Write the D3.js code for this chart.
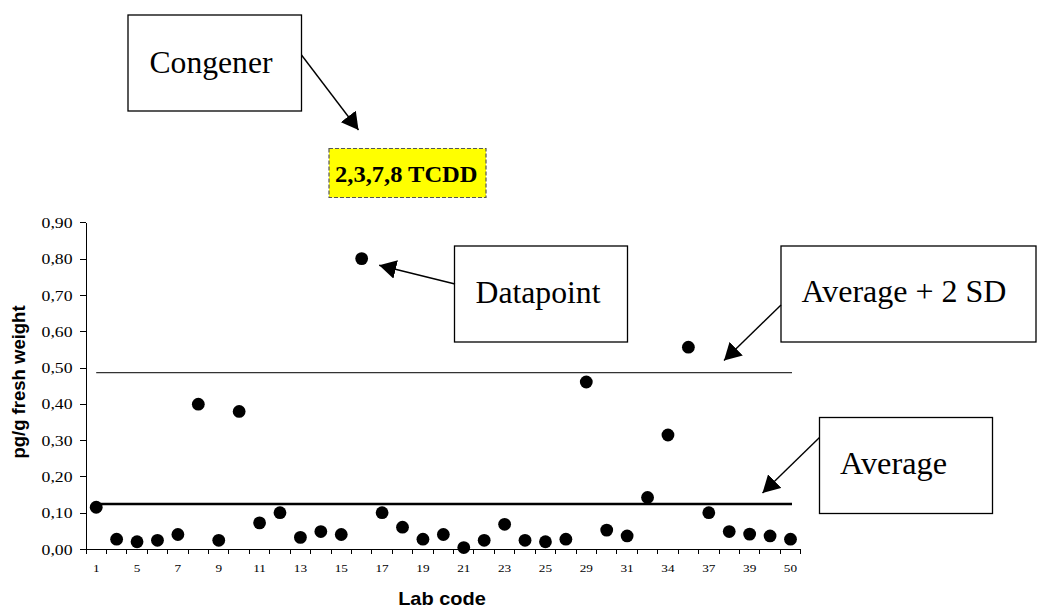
<!DOCTYPE html>
<html>
<head>
<meta charset="utf-8">
<script src="https://cdn.jsdelivr.net/npm/d3@7"></script>
<style>
  html, body { margin: 0; padding: 0; background: #fff; }
  svg { display: block; }
</style>
</head>
<body>
<svg id="chart" width="1039" height="609"></svg>
<script>
// ---- Data ----
const categories = ["1","3","5","6","7","8","9","10","11","12","13","14","15","16","17","18","19","20","21","22","23","24","25","27","29","30","31","32","34","35","37","38","39","40","50"];
const values = [0.115,0.027,0.020,0.024,0.040,0.399,0.024,0.379,0.072,0.100,0.032,0.048,0.040,0.800,0.100,0.060,0.027,0.040,0.004,0.024,0.068,0.024,0.020,0.027,0.460,0.052,0.036,0.142,0.314,0.556,0.100,0.048,0.041,0.036,0.027];
const averageValue = 0.124;
const averagePlus2SD = 0.486;
const yTicks = [0,0.1,0.2,0.3,0.4,0.5,0.6,0.7,0.8,0.9];
const xAxisTitle = "Lab code";
const yAxisTitle = "pg/g fresh weight";
const congenerName = "2,3,7,8 TCDD";

const svg = d3.select("#chart");
svg.append("rect").attr("width",1039).attr("height",609).attr("fill","#fff");

const defs = svg.append("defs");
defs.append("marker").attr("id","arrow").attr("viewBox","0 0 17 19")
  .attr("refX",17).attr("refY",9.5).attr("markerWidth",17).attr("markerHeight",19)
  .attr("markerUnits","userSpaceOnUse").attr("orient","auto")
  .append("path").attr("d","M0,0 L17,9.5 L0,19 z").attr("fill","#000");

const x = d3.scaleBand().domain(categories).range([86, 800.7]).padding(0);
const y = d3.scaleLinear().domain([0, 0.9]).range([549, 222.3]);
const cx = c => x(c) + x.bandwidth()/2;

const serif = "'Liberation Serif','Times New Roman',serif";
const sans = "'Liberation Sans',Arial,sans-serif";

function stretch(sel, f) {
  sel.each(function() {
    const len = this.getComputedTextLength();
    d3.select(this).attr("textLength", len*f).attr("lengthAdjust","spacingAndGlyphs");
  });
}

// Y axis
const yAxis = svg.append("g").attr("transform","translate(86,0)")
  .call(d3.axisLeft(y).tickValues(yTicks).tickSize(6).tickSizeOuter(0).tickPadding(7.5)
    .tickFormat(d => d3.format(".2f")(d).replace(".", ",")));
yAxis.select(".domain").attr("stroke","#000").attr("shape-rendering","crispEdges");
yAxis.selectAll(".tick line").attr("stroke","#000").attr("shape-rendering","crispEdges");
yAxis.selectAll(".tick text").attr("font-family",serif).attr("font-size",15).attr("fill","#000").attr("dy","0.34em");
stretch(yAxis.selectAll(".tick text"), 1.18);

// X axis
const xAxis = svg.append("g").attr("transform","translate(0,549)");
xAxis.append("line").attr("x1",80).attr("x2",x.range()[1]).attr("y1",0).attr("y2",0)
  .attr("stroke","#000").attr("shape-rendering","crispEdges");
const boundaries = categories.map(c => x(c)).concat([x.range()[1]]);
xAxis.selectAll("line.tk").data(boundaries).enter().append("line").attr("class","tk")
  .attr("x1",d=>d).attr("x2",d=>d).attr("y1",0).attr("y2",5)
  .attr("stroke","#000").attr("shape-rendering","crispEdges");
const xl = xAxis.selectAll("text.xl").data(categories.filter((c,i)=>i%2===0)).enter().append("text")
  .attr("class","xl").attr("x",d=>cx(d)).attr("y",23).attr("text-anchor","middle")
  .attr("font-family",serif).attr("font-size",11).attr("fill","#000").text(d=>d);
stretch(xl, 1.2);

// Axis titles
const xt = svg.append("text").attr("x",442).attr("y",605).attr("text-anchor","middle")
  .attr("font-family",sans).attr("font-weight","bold").attr("font-size",18.5).text(xAxisTitle);
stretch(xt, 1.08);
svg.append("text").attr("transform","translate(25,382) rotate(-90)").attr("text-anchor","middle")
  .attr("font-family",sans).attr("font-weight","bold").attr("font-size",18.5).text(yAxisTitle);

// Reference lines
const x0 = cx(categories[0]), x1 = cx(categories[categories.length-1]) + 1.5;
svg.append("line").attr("x1",x0).attr("x2",x1).attr("y1",y(averagePlus2SD)).attr("y2",y(averagePlus2SD))
  .attr("stroke","#333").attr("stroke-width",1.3);
svg.append("line").attr("x1",x0).attr("x2",x1).attr("y1",y(averageValue)).attr("y2",y(averageValue))
  .attr("stroke","#000").attr("stroke-width",2.6);

// Points
svg.append("g").selectAll("circle").data(values).enter().append("circle")
  .attr("cx",(d,i)=>cx(categories[i])).attr("cy",d=>y(d)).attr("r",6.4).attr("fill","#000");

// Annotations
function box(x0,y0,w,h){
  svg.append("rect").attr("x",x0).attr("y",y0).attr("width",w).attr("height",h)
    .attr("fill","#fff").attr("stroke","#000").attr("stroke-width",1.3);
}
function arrow(xa,ya,xb,yb){
  svg.append("line").attr("x1",xa).attr("y1",ya).attr("x2",xb).attr("y2",yb)
    .attr("stroke","#000").attr("stroke-width",1.4).attr("marker-end","url(#arrow)");
}
function label(t,xp,yp,size,weight,width){
  const s = svg.append("text").attr("x",xp).attr("y",yp).attr("font-family",serif)
    .attr("font-size",size).attr("font-weight",weight||"normal").attr("fill","#000").text(t);
  if (width) s.attr("textLength",width).attr("lengthAdjust","spacingAndGlyphs");
  return s;
}

// Congener
box(128,15,173.5,96);
label("Congener",149.5,72.5,31.5,null,123);
arrow(301.5,55,358.5,130);

// Yellow congener box
svg.append("rect").attr("x",329).attr("y",148.5).attr("width",157).attr("height",49)
  .attr("fill","#ffff00").attr("stroke","#555").attr("stroke-width",1.2).attr("stroke-dasharray","4,2");
label(congenerName,335,181.5,23.5,"bold",142.5);

// Datapoint
const iMax = values.indexOf(d3.max(values));
box(454.5,246,173,96);
label("Datapoint",475.5,302.5,31.5,null,125);
arrow(455,284, cx(categories[iMax])+17.5, y(values[iMax])+6.7);

// Average + 2 SD
box(781,246,255,96);
label("Average + 2 SD",801.5,301.5,31.5,null,205);
arrow(781,305, 724, y(averagePlus2SD)-12);

// Average
box(819.5,417.5,173,96);
label("Average",840,473.5,31.5,null,107);
arrow(819.5,437.5, 762.5, y(averageValue)-11);
</script>
</body>
</html>
